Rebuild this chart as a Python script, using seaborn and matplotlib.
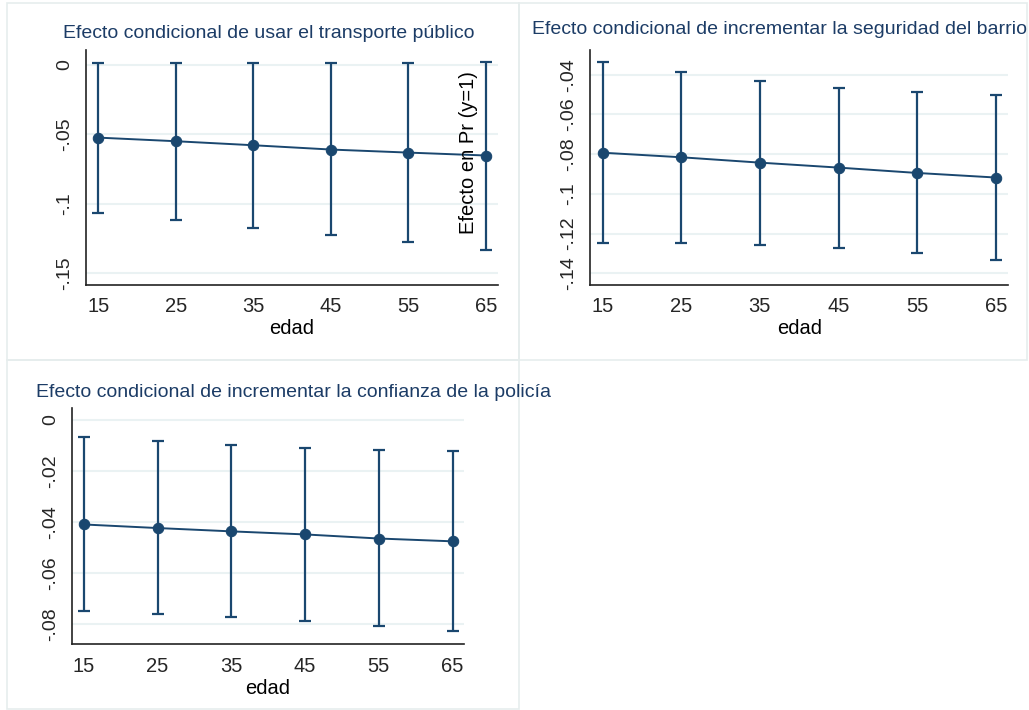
import numpy as np
import pandas as pd
import matplotlib
matplotlib.use("Agg")
import matplotlib.pyplot as plt
import seaborn as sns
from matplotlib.patches import Rectangle

# ---- data ----
edad = [15, 25, 35, 45, 55, 65]

titles = [
    "Efecto condicional de usar el transporte público",
    "Efecto condicional de incrementar la seguridad del barrio",
    "Efecto condicional de incrementar la confianza de la policía",
]

transporte_est = [-0.0524, -0.0550, -0.0579, -0.0610, -0.0632, -0.0653]
transporte_hi = [0.0017, 0.0017, 0.0017, 0.0017, 0.0017, 0.0019]
transporte_lo = [-0.1069, -0.1119, -0.1174, -0.1227, -0.1280, -0.1333]

seguridad_est = [-0.0793, -0.0816, -0.0843, -0.0868, -0.0895, -0.0918]
seguridad_hi = [-0.0336, -0.0387, -0.0430, -0.0465, -0.0486, -0.0502]
seguridad_lo = [-0.1249, -0.1246, -0.1256, -0.1271, -0.1299, -0.1333]

confianza_est = [-0.0410, -0.0424, -0.0437, -0.0449, -0.0465, -0.0476]
confianza_hi = [-0.0069, -0.0085, -0.0100, -0.0112, -0.0117, -0.0123]
confianza_lo = [-0.0750, -0.0760, -0.0773, -0.0787, -0.0807, -0.0829]

yticks_1 = [0, -0.05, -0.10, -0.15]
yticklabels_1 = ["0", "-.05", "-.1", "-.15"]
yticks_2 = [-0.04, -0.06, -0.08, -0.10, -0.12, -0.14]
yticklabels_2 = ["-.04", "-.06", "-.08", "-.1", "-.12", "-.14"]
yticks_3 = [0, -0.02, -0.04, -0.06, -0.08]
yticklabels_3 = ["0", "-.02", "-.04", "-.06", "-.08"]

xlabel = "edad"
ylabel = "Efecto en Pr (y=1)"

# ---- style ----
sns.set_style("white")
plt.rcParams["font.family"] = ["Liberation Sans", "DejaVu Sans"]
plt.rcParams["xtick.direction"] = "out"
plt.rcParams["ytick.direction"] = "out"

NAVY = "#1a476f"
TITLE_C = "#1c3c66"
GRID_C = "#eaf2f3"
BOX_C = "#e6eded"

W, H = 1029, 710
fig = plt.figure(figsize=(W / 100, H / 100), dpi=100)

def px_rect(l, t, r, b):
    return [l / W, 1 - b / H, (r - l) / W, (b - t) / H]

# panel frames
for (l, t, r, b) in [(7, 3, 519, 360), (519, 3, 1027, 360), (7, 360, 519, 709)]:
    fig.patches.append(Rectangle((l / W, 1 - b / H), (r - l) / W, (b - t) / H,
                                 transform=fig.transFigure, fill=False,
                                 edgecolor=BOX_C, linewidth=1.2, zorder=0))

panels = [
    dict(rect=px_rect(86, 50, 498, 285), est=transporte_est, hi=transporte_hi, lo=transporte_lo,
         ylim=(-0.1587, 0.0108), yt=yticks_1, ytl=yticklabels_1,
         title=titles[0], tpos=(269, 33), xlpos=(292, 328)),
    dict(rect=px_rect(590, 50, 1008, 285), est=seguridad_est, hi=seguridad_hi, lo=seguridad_lo,
         ylim=(-0.1459, -0.0276), yt=yticks_2, ytl=yticklabels_2,
         title=titles[1], tpos=(779, 29), xlpos=(800, 328)),
    dict(rect=px_rect(72, 408, 464, 644), est=confianza_est, hi=confianza_hi, lo=confianza_lo,
         ylim=(-0.0878, 0.0046), yt=yticks_3, ytl=yticklabels_3,
         title=titles[2], tpos=(294, 392), xlpos=(268, 688)),
]

for p in panels:
    ax = fig.add_axes(p["rect"])
    df = pd.DataFrame({"edad": edad, "est": p["est"], "hi": p["hi"], "lo": p["lo"]})
    for yv in p["yt"]:
        ax.axhline(yv, color=GRID_C, linewidth=1.5, zorder=0)
    ax.errorbar(df["edad"], df["est"],
                yerr=[df["est"] - df["lo"], df["hi"] - df["est"]],
                fmt="none", ecolor=NAVY, elinewidth=1.6, capsize=4.2, capthick=1.6, zorder=2)
    sns.lineplot(data=df, x="edad", y="est", ax=ax, color=NAVY, linewidth=1.4,
                 marker="o", markersize=7.5, markeredgecolor=NAVY, zorder=3)
    ax.set_xlim(13.4, 66.55)
    ax.set_ylim(*p["ylim"])
    ax.set_xticks(edad)
    ax.set_xticklabels([str(e) for e in edad], fontsize=14.5)
    ax.set_yticks(p["yt"])
    ax.set_yticklabels(p["ytl"], fontsize=14, rotation=90, va="center")
    ax.set_xlabel("")
    ax.set_ylabel("")
    ax.tick_params(axis="both", length=5, width=1, color="#333333", pad=4)
    for s in ["top", "right"]:
        ax.spines[s].set_visible(False)
    for s in ["left", "bottom"]:
        ax.spines[s].set_color("#222222")
        ax.spines[s].set_linewidth(1.2)
    ax.patch.set_alpha(0)
    fig.text(p["tpos"][0] / W, 1 - p["tpos"][1] / H, p["title"], ha="center", va="center",
             fontsize=14, color=TITLE_C)
    fig.text(p["xlpos"][0] / W, 1 - p["xlpos"][1] / H, xlabel, ha="center", va="center",
             fontsize=14.5, color="black")

fig.text(468 / W, 1 - 153 / H, ylabel, rotation=90, ha="center", va="center",
         fontsize=14.5, color="black")

fig.savefig("out.png", dpi=100)
